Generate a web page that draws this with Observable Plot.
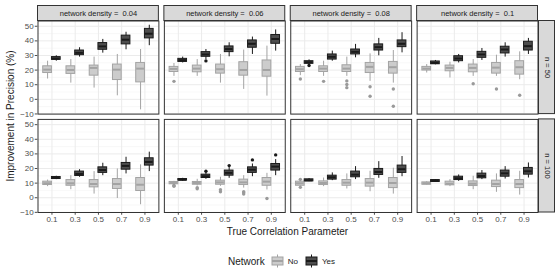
<!DOCTYPE html>
<html><head><meta charset="utf-8">
<script src="https://cdn.jsdelivr.net/npm/d3@7"></script>
<script src="https://cdn.jsdelivr.net/npm/@observablehq/plot@0.6"></script>
<style>
body{margin:0;background:#fff;font-family:"Liberation Sans",Arial,sans-serif;}
#wrap{position:relative;width:560px;height:280px;overflow:hidden;}
#wrap svg.plot{position:absolute;left:0;top:0;}
.ytitle{position:absolute;left:10px;top:116px;transform:translate(-50%,-50%) rotate(-90deg);font-size:10px;color:#1a1a1a;white-space:nowrap;}
.xtitle{position:absolute;left:287.5px;top:231px;transform:translate(-50%,-50%);font-size:10px;color:#1a1a1a;white-space:nowrap;}
.legend{position:absolute;top:261px;transform:translateY(-50%);font-size:10px;color:#1a1a1a;white-space:nowrap;display:flex;align-items:center;}
.legend .lab{font-size:8px;margin:0 7px 0 4px;}
</style></head><body><div id="wrap"></div><script>
// ---- categories ----
const densities = ["0.04", "0.06", "0.08", "0.1"];
const sizes = ["50", "100"];
const corrs = ["0.1", "0.3", "0.5", "0.7", "0.9"];
const networks = ["No", "Yes"];
const yTicks = [-10, 0, 10, 20, 30, 40, 50];
const yMinor = [-5, 5, 15, 25, 35, 45];

// ---- box summaries per corr: [lower whisker, q1, median, q3, upper whisker] ----
// n = 50
const no_004_50 = [[13.9,18.0,20.3,22.6,26.1],[11.1,17.4,20.1,22.6,27.2],[7.7,16.2,21.5,23.1,28.9],[2.4,13.2,20.3,23.8,30.7],[-7.2,11.6,21.0,24.9,34.1]];
const yes_004_50 = [[26.1,27.0,27.9,28.9,29.8],[28.9,30.2,31.8,33.4,35.3],[31.6,33.9,36.2,38.5,41.0],[33.9,37.6,40.8,43.6,45.9],[36.7,41.7,44.9,48.2,50.7]];
const no_006_50 = [[15.7,18.7,20.8,22.2,24.5],[15.7,18.5,21.0,23.1,27.2],[11.1,17.6,20.6,23.8,30.7],[6.8,16.2,20.1,25.4,33.7],[2.2,15.5,20.1,26.6,36.4]];
const yes_006_50 = [[24.9,25.6,26.8,27.7,28.9],[27.2,29.1,30.7,32.3,34.1],[29.1,32.3,34.4,36.2,38.7],[30.7,35.3,38.0,40.3,42.6],[33.0,38.0,41.3,44.0,47.5]];
const no_008_50 = [[16.2,18.7,20.6,22.2,23.8],[15.7,18.7,21.0,22.6,26.1],[15.7,18.7,21.0,23.3,28.9],[12.3,18.0,22.2,24.9,31.1],[11.1,17.6,22.0,25.6,33.4]];
const yes_008_50 = [[22.6,24.3,25.4,26.1,27.0],[26.1,27.2,29.1,30.7,33.0],[28.4,30.7,32.5,34.1,37.6],[29.8,33.4,35.7,37.6,41.7],[31.8,35.7,38.0,40.3,45.6]];
const no_01_50 = [[18.0,19.7,21.0,22.2,23.8],[14.6,19.2,21.5,23.1,25.4],[15.7,18.5,21.5,23.8,27.2],[15.7,17.6,21.7,24.9,30.2],[13.4,16.9,22.0,26.1,32.5]];
const yes_01_50 = [[23.6,24.0,24.9,25.9,26.6],[24.9,26.1,27.9,29.5,30.7],[26.6,28.4,30.7,32.5,34.8],[28.9,31.4,34.1,36.0,38.7],[30.7,33.4,36.4,39.4,41.7]];
// n = 100
const no_004_100 = [[7.6,8.7,9.9,11.0,12.1],[5.5,8.2,9.9,12.1,15.1],[2.5,7.1,9.4,12.1,17.9],[-0.5,6.0,9.4,12.8,19.7],[-4.8,4.6,8.9,13.5,22.5]];
const yes_004_100 = [[12.4,12.8,13.5,14.2,14.7],[14.0,14.9,16.3,17.9,19.2],[15.1,17.0,19.0,20.8,23.6],[16.3,19.2,21.8,23.8,27.7],[17.9,22.0,24.5,27.0,31.2]];
const no_006_100 = [[8.9,9.2,10.1,10.8,11.2],[8.0,8.9,10.1,10.8,12.6],[7.8,8.9,10.5,11.7,14.0],[6.6,8.7,10.5,12.4,15.1],[5.3,8.2,11.0,13.5,16.7]];
const yes_006_100 = [[11.2,11.7,12.4,12.8,13.3],[12.6,13.5,14.7,15.8,17.0],[13.3,15.1,17.0,18.6,20.8],[14.4,17.0,19.2,20.8,23.1],[15.1,18.6,21.3,23.1,26.1]];
const no_008_100 = [[7.6,8.2,9.9,11.0,12.1],[7.6,8.7,10.1,11.2,13.5],[6.0,8.2,10.3,12.1,16.3],[4.1,7.6,10.3,12.8,18.1],[2.5,6.6,10.1,13.5,20.2]];
const yes_008_100 = [[11.0,11.2,11.9,12.6,13.1],[11.7,12.4,14.0,15.1,17.0],[12.4,14.0,15.8,17.9,21.3],[13.3,15.6,17.6,19.7,24.7],[14.4,17.0,19.5,22.0,28.2]];
const no_01_100 = [[8.7,8.9,9.9,10.5,11.0],[7.6,8.5,9.6,11.0,12.4],[5.5,8.0,9.6,11.2,14.7],[3.7,7.3,9.4,11.7,16.3],[1.8,6.6,9.4,12.1,18.1]];
const yes_01_100 = [[10.5,10.8,11.5,12.1,12.4],[11.2,12.1,13.3,14.4,15.6],[12.4,13.3,14.9,16.5,18.6],[12.8,14.4,16.7,18.6,21.3],[13.5,15.8,18.1,20.4,23.8]];

// ---- outliers: [corr, network, value] ----
const out_004_50 = [];
const out_006_50 = [["0.1","No",12.3],["0.3","Yes",26.3]];
const out_008_50 = [["0.1","No",13.9],["0.1","Yes",23.2],["0.3","No",12.3],["0.5","No",12.6],["0.5","No",10.2],["0.5","No",8.0],["0.7","No",8.6],["0.7","No",2.1],["0.9","No",7.1],["0.9","No",-4.7]];
const out_01_50 = [["0.5","No",10.7],["0.7","No",7.1],["0.9","No",2.8]];
const out_004_100 = [];
const out_006_100 = [["0.1","No",8.5],["0.1","No",7.8],["0.3","No",6.9],["0.3","No",6.2],["0.5","No",5.5],["0.5","No",4.1],["0.7","No",4.1],["0.7","No",3.4],["0.7","No",2.5],["0.9","No",-0.5],["0.3","Yes",18.1],["0.5","Yes",22.0],["0.7","Yes",25.9],["0.9","Yes",29.3]];
const out_008_100 = [["0.1","No",12.6],["0.1","No",7.1]];
const out_01_100 = [];

// ---- assemble tables ----
const panels = [
  ["0.04","50",no_004_50,yes_004_50,out_004_50],["0.06","50",no_006_50,yes_006_50,out_006_50],
  ["0.08","50",no_008_50,yes_008_50,out_008_50],["0.1","50",no_01_50,yes_01_50,out_01_50],
  ["0.04","100",no_004_100,yes_004_100,out_004_100],["0.06","100",no_006_100,yes_006_100,out_006_100],
  ["0.08","100",no_008_100,yes_008_100,out_008_100],["0.1","100",no_01_100,yes_01_100,out_01_100]
];
const boxes = [], outliers = [];
for (const [density, n, no, yes, out] of panels) {
  [no, yes].forEach((arr, k) => arr.forEach((s, i) => boxes.push({
    density, n, corr: corrs[i], network: networks[k], lo: s[0], q1: s[1], med: s[2], q3: s[3], hi: s[4]
  })));
  out.forEach(([corr, network, value]) => outliers.push({density, n, corr, network, value}));
}
const topStrips = densities.map(density => ({density, n: sizes[0]}));
const rightStrips = sizes.map(n => ({density: densities[densities.length - 1], n}));

// ---- layout ----
const W = 560, H = 226, ML = 37.5, MR = 22.5, MT = 20.5, MB = 14;
const fxPad = 0.0435, fyPad = 0.054;
const panelW = (W - ML - MR) / (densities.length - fxPad) * (1 - fxPad);
const panelH = (H - MT - MB) / (sizes.length - fyPad) * (1 - fyPad);
const step = panelW / (corrs.length + 0.2);
const half = step / 2, boxW = 0.375 * step, inner = half - boxW;

const style = {
  No:  {fill: "#cccccc", stroke: "#a3a3a3", dot: "#9a9a9a", dx: -boxW / 2, insetLeft: inner, insetRight: half},
  Yes: {fill: "#4d4d4d", stroke: "#1a1a1a", dot: "#1a1a1a", dx: boxW / 2, insetLeft: half, insetRight: inner}
};
const netMarks = networks.flatMap(net => {
  const s = style[net];
  const b = boxes.filter(d => d.network === net);
  const o = outliers.filter(d => d.network === net);
  return [
    Plot.ruleX(b, {x: "corr", y1: "lo", y2: "hi", fx: "density", fy: "n", dx: s.dx, stroke: s.stroke, strokeWidth: 1}),
    Plot.barY(b, {x: "corr", y1: "q1", y2: "q3", fx: "density", fy: "n", fill: s.fill, stroke: s.stroke, strokeWidth: 1, insetLeft: s.insetLeft, insetRight: s.insetRight}),
    Plot.tickY(b, {x: "corr", y: "med", fx: "density", fy: "n", stroke: s.stroke, strokeWidth: 2, insetLeft: s.insetLeft + 0.5, insetRight: s.insetRight + 0.5}),
    Plot.dot(o, {x: "corr", y: "value", fx: "density", fy: "n", dx: s.dx, r: 1.7, fill: s.dot, stroke: "none"})
  ];
});

const chart = Plot.plot({
  width: W, height: H,
  marginLeft: ML, marginRight: MR, marginTop: MT, marginBottom: MB,
  style: {fontFamily: "'Liberation Sans', Arial, sans-serif", fontSize: "8px", color: "#4d4d4d", background: "#fff"},
  fx: {domain: densities, paddingInner: fxPad, paddingOuter: 0, round: false, axis: null, label: null},
  fy: {domain: sizes, paddingInner: fyPad, paddingOuter: 0, round: false, axis: null, label: null},
  x: {type: "band", domain: corrs, paddingInner: 0, paddingOuter: 0.1, round: false, label: null, tickSize: 2.75, tickPadding: 1.5},
  y: {domain: [-10.1, 53.6], ticks: yTicks, label: null, tickSize: 2.75, tickPadding: 1.5, tickFormat: d => d < 0 ? "\u2212" + Math.abs(d) : String(d)},
  marks: [
    Plot.ruleY(yMinor, {stroke: "#f3f3f3", strokeWidth: 0.6}),
    Plot.ruleY(yTicks, {stroke: "#ebebeb", strokeWidth: 1}),
    Plot.ruleX(corrs, {stroke: "#ebebeb", strokeWidth: 1}),
    ...netMarks,
    Plot.frame({stroke: "#333333", strokeWidth: 1}),
    Plot.rect(topStrips, {fx: "density", fy: "n", fill: "#d9d9d9", stroke: "#333333", strokeWidth: 1, insetTop: -15, insetBottom: panelH}),
    Plot.text(topStrips, {fx: "density", fy: "n", text: d => "network density =  " + d.density, frameAnchor: "top", dy: -7.5, textAnchor: "middle", lineAnchor: "middle", fontSize: 7.5, fill: "#1a1a1a"}),
    Plot.rect(rightStrips, {fx: "density", fy: "n", fill: "#d9d9d9", stroke: "#333333", strokeWidth: 1, insetLeft: panelW + 1, insetRight: -17}),
    Plot.text(rightStrips, {fx: "density", fy: "n", text: d => "n = " + d.n, frameAnchor: "right", dx: 9, rotate: 90, textAnchor: "middle", lineAnchor: "middle", fontSize: 7.5, fill: "#1a1a1a"})
  ]
});
chart.classList.add("plot");
const wrap = document.getElementById("wrap");
wrap.appendChild(chart);

const yt = document.createElement("div"); yt.className = "ytitle"; yt.textContent = "Improvement in Precision (%)"; wrap.appendChild(yt);
const xt = document.createElement("div"); xt.className = "xtitle"; xt.textContent = "True Correlation Parameter"; wrap.appendChild(xt);

// legend
const lg = document.createElement("div"); lg.className = "legend"; lg.style.left = "228px";
const title = document.createElement("span"); title.textContent = "Network"; title.style.marginRight = "6px"; lg.appendChild(title);
for (const net of networks) {
  const s = style[net];
  const key = d3.create("svg").attr("width", 13).attr("height", 14);
  key.append("line").attr("x1", 6.5).attr("x2", 6.5).attr("y1", 0.5).attr("y2", 13.5).attr("stroke", s.stroke);
  key.append("rect").attr("x", 1).attr("y", 3).attr("width", 11).attr("height", 8).attr("fill", s.fill).attr("stroke", s.stroke);
  key.append("line").attr("x1", 1).attr("x2", 12).attr("y1", 7).attr("y2", 7).attr("stroke", s.stroke).attr("stroke-width", 2);
  lg.appendChild(key.node());
  const lab = document.createElement("span"); lab.className = "lab"; lab.textContent = net; lg.appendChild(lab);
}
wrap.appendChild(lg);
</script></body></html>
